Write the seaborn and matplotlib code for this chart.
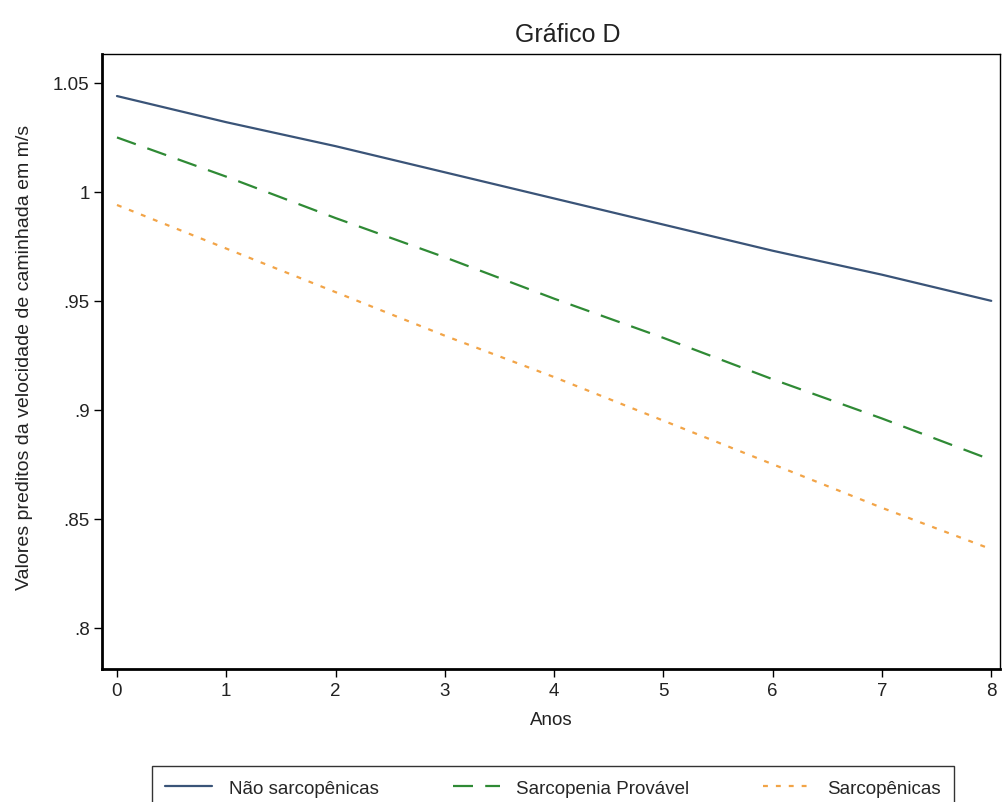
import numpy as np
import pandas as pd
import matplotlib.pyplot as plt
import seaborn as sns
from matplotlib.ticker import FuncFormatter

# dados
anos = [0, 1, 2, 3, 4, 5, 6, 7, 8]
nao_sarcopenicas = [1.044, 1.032, 1.021, 1.009, 0.997, 0.985, 0.973, 0.962, 0.950]
sarcopenia_provavel = [1.025, 1.007, 0.988, 0.970, 0.951, 0.933, 0.914, 0.896, 0.877]
sarcopenicas = [0.994, 0.974, 0.954, 0.934, 0.915, 0.895, 0.875, 0.855, 0.836]

grupos = ['Não sarcopênicas', 'Sarcopenia Provável', 'Sarcopênicas']
cores = ['#3a5478', '#2f8a35', '#f2a447']

df = pd.DataFrame({
    'Anos': anos * 3,
    'valor': nao_sarcopenicas + sarcopenia_provavel + sarcopenicas,
    'grupo': [g for g in grupos for _ in anos],
})

sns.set_style('white')
plt.rcParams['font.family'] = ['Liberation Sans', 'DejaVu Sans']

fig = plt.figure(figsize=(10.03, 8.03), dpi=100)
ax = fig.add_axes([0.1017, 0.1656, 0.8953, 0.7659])

sns.lineplot(data=df, x='Anos', y='valor', hue='grupo', style='grupo',
             hue_order=grupos, style_order=grupos,
             palette=dict(zip(grupos, cores)),
             dashes={grupos[0]: '', grupos[1]: (9, 5.5), grupos[2]: (2.2, 3.6)},
             linewidth=1.6, ax=ax, legend=False)

ax.set_xlim(-0.137, 8.08)
ax.set_ylim(0.781, 1.0633)
ax.set_xticks(range(0, 9))
ax.set_yticks([0.8, 0.85, 0.9, 0.95, 1.0, 1.05])

def fmt(v, pos):
    s = f'{v:.2f}'.rstrip('0').rstrip('.')
    if s.startswith('0'):
        s = s[1:]
    return s

ax.yaxis.set_major_formatter(FuncFormatter(fmt))
ax.tick_params(axis='both', direction='out', length=6, width=1, color='black',
               labelsize=13.5, labelcolor='#222222', left=True, bottom=True)
ax.tick_params(axis='x', pad=3)
ax.tick_params(axis='y', pad=3)

for side in ['left', 'bottom']:
    ax.spines[side].set_linewidth(2)
    ax.spines[side].set_color('black')
for side in ['top', 'right']:
    ax.spines[side].set_linewidth(1)
    ax.spines[side].set_color('black')

ax.set_xlabel('Anos', fontsize=13.5, labelpad=9, color='#222222')
ax.set_ylabel('Valores preditos da velocidade de caminhada em m/s', fontsize=14,
              labelpad=14, color='#222222')
ax.yaxis.label.set_y(0.508)

fig.text(0.566, 0.956, 'Gráfico D', ha='center', va='center', fontsize=18, color='#222222')

handles = [plt.Line2D([0], [0], color=cores[0], lw=1.6),
           plt.Line2D([0], [0], color=cores[1], lw=1.6, dashes=(9, 5.5)),
           plt.Line2D([0], [0], color=cores[2], lw=1.6, dashes=(2.2, 3.6))]
leg = fig.legend(handles, grupos, loc='upper left',
                 bbox_to_anchor=(152 / 1003, 0.0, 802 / 1003, 0.0448), mode='expand',
                 ncol=3, fontsize=13.5, frameon=True, fancybox=False,
                 edgecolor='black', handlelength=2.5, columnspacing=3.2,
                 borderpad=0.72, borderaxespad=0, handletextpad=0.9)
leg.get_frame().set_linewidth(1)

fig.savefig('out.png', dpi=100)
